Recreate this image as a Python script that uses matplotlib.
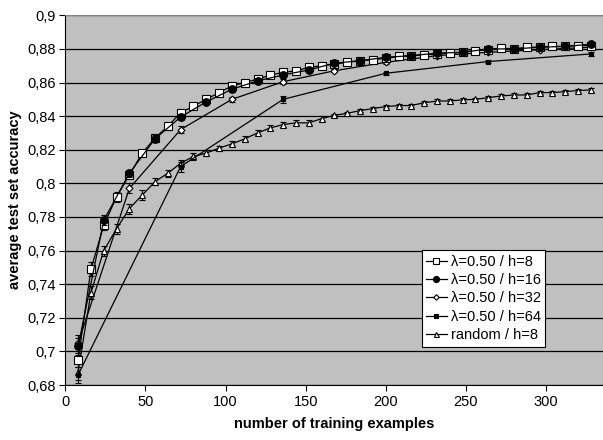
import matplotlib
matplotlib.use("Agg")
import matplotlib.pyplot as plt
from matplotlib.ticker import FuncFormatter

plt.rcParams["font.family"] = ["Liberation Sans", "DejaVu Sans"]

# training set sizes
x_h8 = list(range(8, 329, 8))
x_h16 = list(range(8, 329, 16))
x_h32 = list(range(8, 329, 32))
x_h64 = [8, 72, 136, 200, 264, 328]
x_rnd = list(range(8, 329, 8))

acc_h8 = [0.695, 0.749, 0.775, 0.792, 0.805, 0.818, 0.827, 0.834, 0.842, 0.846,
          0.850, 0.854, 0.858, 0.860, 0.862, 0.8645, 0.866, 0.867, 0.869, 0.870,
          0.871, 0.872, 0.873, 0.8735, 0.8745, 0.8755, 0.876, 0.8765, 0.877, 0.8775,
          0.878, 0.879, 0.8795, 0.8805, 0.880, 0.881, 0.881, 0.8815, 0.8815, 0.882,
          0.882]
acc_h16 = [0.703, 0.778, 0.806, 0.8265, 0.8395, 0.8485, 0.856, 0.861, 0.8645, 0.8675,
           0.8715, 0.873, 0.875, 0.876, 0.8775, 0.878, 0.880, 0.880, 0.881, 0.8815,
           0.8828]
acc_h32 = [0.705, 0.797, 0.832, 0.850, 0.8605, 0.867, 0.872, 0.876, 0.878, 0.8795, 0.881]
acc_h64 = [0.686, 0.810, 0.850, 0.8655, 0.8725, 0.877]
acc_rnd = [0.688, 0.735, 0.760, 0.773, 0.785, 0.793, 0.801, 0.806, 0.812, 0.816,
           0.818, 0.821, 0.8235, 0.8265, 0.830, 0.833, 0.835, 0.836, 0.836, 0.8385,
           0.8405, 0.8417, 0.8433, 0.8445, 0.8457, 0.8463, 0.8463, 0.848, 0.849, 0.849,
           0.8497, 0.850, 0.851, 0.852, 0.8526, 0.8526, 0.854, 0.854, 0.8546, 0.8552,
           0.8556]

# error bar half widths (rough reading)
err_h8 = [0.004, 0.004, 0.003, 0.003, 0.002, 0.002, 0.002, 0.002, 0.002, 0.002,
          0.0015, 0.0015, 0.0015, 0.0015, 0.0015, 0.0015, 0.0015, 0.0015, 0.0015, 0.0015,
          0.001, 0.001, 0.001, 0.001, 0.001, 0.001, 0.001, 0.001, 0.001, 0.001,
          0.001, 0.001, 0.001, 0.001, 0.001, 0.001, 0.001, 0.001, 0.001, 0.001,
          0.001]
err_h16 = [0.005, 0.003, 0.002, 0.002, 0.002, 0.0015, 0.0015, 0.0015, 0.0015, 0.0015,
           0.001, 0.001, 0.001, 0.001, 0.001, 0.001, 0.001, 0.001, 0.001, 0.001,
           0.001]
err_h32 = [0.005, 0.003, 0.002, 0.0015, 0.0015, 0.001, 0.001, 0.001, 0.001, 0.001, 0.001]
err_h64 = [0.005, 0.003, 0.002, 0.001, 0.001, 0.001]
err_rnd = [0.005, 0.004, 0.003, 0.003, 0.003, 0.003, 0.002, 0.002, 0.002, 0.002,
           0.002, 0.0015, 0.0015, 0.0015, 0.0015, 0.0015, 0.0015, 0.0015, 0.0015, 0.0015,
           0.001, 0.001, 0.001, 0.001, 0.001, 0.001, 0.001, 0.001, 0.001, 0.001,
           0.001, 0.001, 0.001, 0.001, 0.001, 0.001, 0.001, 0.001, 0.001, 0.001,
           0.001]

labels = ["λ=0.50 / h=8", "λ=0.50 / h=16", "λ=0.50 / h=32", "λ=0.50 / h=64", "random / h=8"]

fig = plt.figure(figsize=(6.03, 4.40), dpi=100)
ax = fig.add_axes([0.1083, 0.125, 0.8917, 0.8402])
ax.set_facecolor("#C0C0C0")

series = [
    (x_h8, acc_h8, err_h8, dict(marker="s", ms=5.5, mfc="white"), 5),
    (x_h16, acc_h16, err_h16, dict(marker="o", ms=5.5, mfc="black"), 6),
    (x_h32, acc_h32, err_h32, dict(marker="D", ms=3.5, mfc="white"), 4),
    (x_h64, acc_h64, err_h64, dict(marker="s", ms=3.5, mfc="black"), 3),
    (x_rnd, acc_rnd, err_rnd, dict(marker="^", ms=4.5, mfc="white"), 2),
]

for (xs, ys, es, style, z), lab in zip(series, labels):
    ax.errorbar(xs, ys, yerr=es, fmt="none", ecolor="black", elinewidth=0.8,
                capsize=2, capthick=0.8, zorder=z)
    ax.plot(xs, ys, color="black", lw=0.9, mec="black", mew=0.8,
            label=lab, zorder=z + 0.5, **style)

ax.set_xlim(0, 335.6)
ax.set_ylim(0.68, 0.9)
ax.set_xticks([0, 50, 100, 150, 200, 250, 300])
ax.set_yticks([0.68, 0.70, 0.72, 0.74, 0.76, 0.78, 0.80, 0.82, 0.84, 0.86, 0.88, 0.90])
ax.yaxis.set_major_formatter(FuncFormatter(
    lambda v, p: ("%.2f" % v).rstrip("0").replace(".", ",")))
ax.tick_params(direction="out", length=4, width=0.8, labelsize=10.5, color="black", pad=3)

ax.grid(axis="y", color="black", lw=0.9)
ax.set_axisbelow(True)
for s in ax.spines.values():
    s.set_color("#808080")
ax.spines["left"].set_color("black")
ax.spines["bottom"].set_color("black")

ax.set_xlabel("number of training examples", fontsize=10.5, fontweight="bold", labelpad=6)
ax.set_ylabel("average test set accuracy", fontsize=10.5, fontweight="bold", labelpad=4)

leg = ax.legend(loc="lower left", bbox_to_anchor=(0.663, 0.104), borderaxespad=0,
                fancybox=False, framealpha=1, edgecolor="black", fontsize=10.5,
                handlelength=1.4, handletextpad=0.3, labelspacing=0.3,
                borderpad=0.3, markerscale=0.8)
leg.get_frame().set_linewidth(0.8)

fig.savefig("out.png", dpi=100)
